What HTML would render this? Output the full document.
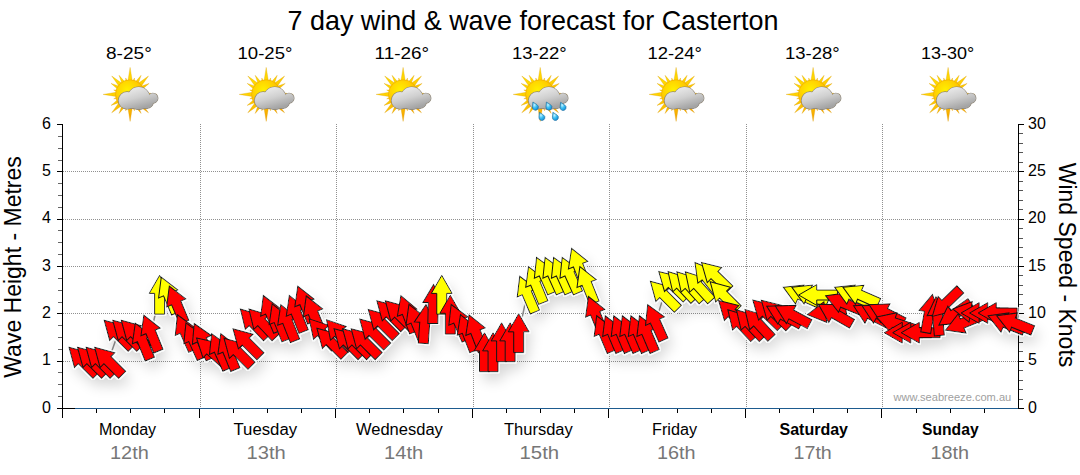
<!DOCTYPE html>
<html><head><meta charset="utf-8"><style>
html,body{margin:0;padding:0;background:#fff;width:1080px;height:475px;overflow:hidden}
svg{display:block}
text{font-family:"Liberation Sans",Arial,sans-serif}
.tl{font-size:16px;fill:#000}
.tt{font-size:17px;fill:#000}
.dl{font-size:16px;fill:#000}
.dt{font-size:18.5px;fill:#777}
</style></head><body>
<svg width="1080" height="475" viewBox="0 0 1080 475">
<defs>
<filter id="sh" x="-10%" y="-30%" width="120%" height="180%">
<feGaussianBlur in="SourceAlpha" stdDeviation="7" result="blur"/>
<feOffset in="blur" dx="4" dy="8" result="off"/>
<feComponentTransfer in="off" result="shadow"><feFuncA type="linear" slope="0.17"/></feComponentTransfer>
<feMorphology in="SourceAlpha" operator="dilate" radius="0.5" result="dil"/>
<feFlood flood-color="#fbfdfd" flood-opacity="0.9" result="white"/>
<feComposite in="white" in2="dil" operator="in" result="halo"/>
<feMerge><feMergeNode in="shadow"/><feMergeNode in="halo"/><feMergeNode in="SourceGraphic"/></feMerge>
</filter>
<radialGradient id="sun" cx="0.4" cy="0.35" r="0.75"><stop offset="0" stop-color="#fff000"/><stop offset="0.55" stop-color="#ffcc00"/><stop offset="1" stop-color="#f39a00"/></radialGradient>
<linearGradient id="ray" x1="0" y1="0" x2="0.6" y2="1"><stop offset="0" stop-color="#ffe600"/><stop offset="0.5" stop-color="#ffd000"/><stop offset="1" stop-color="#f5a000"/></linearGradient>
<linearGradient id="cl" gradientUnits="userSpaceOnUse" x1="0" y1="-7" x2="6" y2="15"><stop offset="0" stop-color="#ececec"/><stop offset="0.5" stop-color="#d0d0d0"/><stop offset="1" stop-color="#a4a4a4"/></linearGradient>
<radialGradient id="rd" cx="0.35" cy="0.35" r="0.7"><stop offset="0" stop-color="#c8f4ff"/><stop offset="0.5" stop-color="#3cc0f4"/><stop offset="1" stop-color="#1490d8"/></radialGradient>
</defs>
<text x="287.5" y="30" font-size="27.5" fill="#000" textLength="490.91" lengthAdjust="spacingAndGlyphs">7 day wind &amp; wave forecast for Casterton</text>
<text x="106.0" y="59" font-size="17" fill="#000" textLength="45.75" lengthAdjust="spacingAndGlyphs">8-25°</text>
<g transform="translate(130.1,94.4)">
<path d="M0.00,-27.00L2.60,-11.00L-2.60,-11.00ZM4.40,-16.42L4.39,-10.21L1.30,-11.04ZM11.00,-19.05L7.32,-8.48L3.68,-10.58ZM18.38,-18.38L9.55,-6.01L6.01,-9.55ZM19.05,-11.00L10.58,-3.68L8.48,-7.32ZM16.42,-4.40L11.04,-1.30L10.21,-4.39ZM27.00,-0.00L11.00,2.60L11.00,-2.60ZM16.42,4.40L10.21,4.39L11.04,1.30ZM19.05,11.00L8.48,7.32L10.58,3.68ZM18.38,18.38L6.01,9.55L9.55,6.01ZM11.00,19.05L3.68,10.58L7.32,8.48ZM4.40,16.42L1.30,11.04L4.39,10.21ZM0.00,27.00L-2.60,11.00L2.60,11.00ZM-4.40,16.42L-4.39,10.21L-1.30,11.04ZM-11.00,19.05L-7.32,8.48L-3.68,10.58ZM-18.38,18.38L-9.55,6.01L-6.01,9.55ZM-19.05,11.00L-10.58,3.68L-8.48,7.32ZM-16.42,4.40L-11.04,1.30L-10.21,4.39ZM-27.00,0.00L-11.00,-2.60L-11.00,2.60ZM-16.42,-4.40L-10.21,-4.39L-11.04,-1.30ZM-19.05,-11.00L-8.48,-7.32L-10.58,-3.68ZM-18.38,-18.38L-6.01,-9.55L-9.55,-6.01ZM-11.00,-19.05L-3.68,-10.58L-7.32,-8.48ZM-4.40,-16.42L-1.30,-11.04L-4.39,-10.21Z" fill="url(#ray)" stroke="#d99a00" stroke-width="0.5" stroke-opacity="0.6"/>
<circle r="14.6" fill="url(#sun)" stroke="#e8a000" stroke-width="0.5"/>
<g fill="#8a8070" stroke="#8a8070" stroke-width="1.2"><circle cx="-3" cy="6" r="8.5"/><circle cx="8.6" cy="3.8" r="11.1"/><circle cx="22.8" cy="3.8" r="4.9"/><circle cx="17" cy="7.8" r="6"/><rect x="-3" y="4" width="20" height="9.8"/></g>
<g fill="url(#cl)"><circle cx="-3" cy="6" r="8.5"/><circle cx="8.6" cy="3.8" r="11.1"/><circle cx="22.8" cy="3.8" r="4.9"/><circle cx="17" cy="7.8" r="6"/><rect x="-3" y="4" width="20" height="9.8"/></g>
</g>
<text x="99.0" y="435" font-size="16" fill="#000" textLength="57.13" lengthAdjust="spacingAndGlyphs">Monday</text>
<text x="110.0" y="458.7" font-size="18.5" fill="#777" textLength="38.77" lengthAdjust="spacingAndGlyphs">12th</text>
<text x="237.5" y="59" font-size="17" fill="#000" textLength="54.9" lengthAdjust="spacingAndGlyphs">10-25°</text>
<g transform="translate(266.2,94.4)">
<path d="M0.00,-27.00L2.60,-11.00L-2.60,-11.00ZM4.40,-16.42L4.39,-10.21L1.30,-11.04ZM11.00,-19.05L7.32,-8.48L3.68,-10.58ZM18.38,-18.38L9.55,-6.01L6.01,-9.55ZM19.05,-11.00L10.58,-3.68L8.48,-7.32ZM16.42,-4.40L11.04,-1.30L10.21,-4.39ZM27.00,-0.00L11.00,2.60L11.00,-2.60ZM16.42,4.40L10.21,4.39L11.04,1.30ZM19.05,11.00L8.48,7.32L10.58,3.68ZM18.38,18.38L6.01,9.55L9.55,6.01ZM11.00,19.05L3.68,10.58L7.32,8.48ZM4.40,16.42L1.30,11.04L4.39,10.21ZM0.00,27.00L-2.60,11.00L2.60,11.00ZM-4.40,16.42L-4.39,10.21L-1.30,11.04ZM-11.00,19.05L-7.32,8.48L-3.68,10.58ZM-18.38,18.38L-9.55,6.01L-6.01,9.55ZM-19.05,11.00L-10.58,3.68L-8.48,7.32ZM-16.42,4.40L-11.04,1.30L-10.21,4.39ZM-27.00,0.00L-11.00,-2.60L-11.00,2.60ZM-16.42,-4.40L-10.21,-4.39L-11.04,-1.30ZM-19.05,-11.00L-8.48,-7.32L-10.58,-3.68ZM-18.38,-18.38L-6.01,-9.55L-9.55,-6.01ZM-11.00,-19.05L-3.68,-10.58L-7.32,-8.48ZM-4.40,-16.42L-1.30,-11.04L-4.39,-10.21Z" fill="url(#ray)" stroke="#d99a00" stroke-width="0.5" stroke-opacity="0.6"/>
<circle r="14.6" fill="url(#sun)" stroke="#e8a000" stroke-width="0.5"/>
<g fill="#8a8070" stroke="#8a8070" stroke-width="1.2"><circle cx="-3" cy="6" r="8.5"/><circle cx="8.6" cy="3.8" r="11.1"/><circle cx="22.8" cy="3.8" r="4.9"/><circle cx="17" cy="7.8" r="6"/><rect x="-3" y="4" width="20" height="9.8"/></g>
<g fill="url(#cl)"><circle cx="-3" cy="6" r="8.5"/><circle cx="8.6" cy="3.8" r="11.1"/><circle cx="22.8" cy="3.8" r="4.9"/><circle cx="17" cy="7.8" r="6"/><rect x="-3" y="4" width="20" height="9.8"/></g>
</g>
<text x="233.5" y="435" font-size="16" fill="#000" textLength="63.58" lengthAdjust="spacingAndGlyphs">Tuesday</text>
<text x="246.5" y="458.7" font-size="18.5" fill="#777" textLength="39.21" lengthAdjust="spacingAndGlyphs">13th</text>
<text x="374.5" y="59" font-size="17" fill="#000" textLength="54.67" lengthAdjust="spacingAndGlyphs">11-26°</text>
<g transform="translate(403.1,94.4)">
<path d="M0.00,-27.00L2.60,-11.00L-2.60,-11.00ZM4.40,-16.42L4.39,-10.21L1.30,-11.04ZM11.00,-19.05L7.32,-8.48L3.68,-10.58ZM18.38,-18.38L9.55,-6.01L6.01,-9.55ZM19.05,-11.00L10.58,-3.68L8.48,-7.32ZM16.42,-4.40L11.04,-1.30L10.21,-4.39ZM27.00,-0.00L11.00,2.60L11.00,-2.60ZM16.42,4.40L10.21,4.39L11.04,1.30ZM19.05,11.00L8.48,7.32L10.58,3.68ZM18.38,18.38L6.01,9.55L9.55,6.01ZM11.00,19.05L3.68,10.58L7.32,8.48ZM4.40,16.42L1.30,11.04L4.39,10.21ZM0.00,27.00L-2.60,11.00L2.60,11.00ZM-4.40,16.42L-4.39,10.21L-1.30,11.04ZM-11.00,19.05L-7.32,8.48L-3.68,10.58ZM-18.38,18.38L-9.55,6.01L-6.01,9.55ZM-19.05,11.00L-10.58,3.68L-8.48,7.32ZM-16.42,4.40L-11.04,1.30L-10.21,4.39ZM-27.00,0.00L-11.00,-2.60L-11.00,2.60ZM-16.42,-4.40L-10.21,-4.39L-11.04,-1.30ZM-19.05,-11.00L-8.48,-7.32L-10.58,-3.68ZM-18.38,-18.38L-6.01,-9.55L-9.55,-6.01ZM-11.00,-19.05L-3.68,-10.58L-7.32,-8.48ZM-4.40,-16.42L-1.30,-11.04L-4.39,-10.21Z" fill="url(#ray)" stroke="#d99a00" stroke-width="0.5" stroke-opacity="0.6"/>
<circle r="14.6" fill="url(#sun)" stroke="#e8a000" stroke-width="0.5"/>
<g fill="#8a8070" stroke="#8a8070" stroke-width="1.2"><circle cx="-3" cy="6" r="8.5"/><circle cx="8.6" cy="3.8" r="11.1"/><circle cx="22.8" cy="3.8" r="4.9"/><circle cx="17" cy="7.8" r="6"/><rect x="-3" y="4" width="20" height="9.8"/></g>
<g fill="url(#cl)"><circle cx="-3" cy="6" r="8.5"/><circle cx="8.6" cy="3.8" r="11.1"/><circle cx="22.8" cy="3.8" r="4.9"/><circle cx="17" cy="7.8" r="6"/><rect x="-3" y="4" width="20" height="9.8"/></g>
</g>
<text x="356.0" y="435" font-size="16" fill="#000" textLength="86.81" lengthAdjust="spacingAndGlyphs">Wednesday</text>
<text x="384.0" y="458.7" font-size="18.5" fill="#777" textLength="39.19" lengthAdjust="spacingAndGlyphs">14th</text>
<text x="512.0" y="59" font-size="17" fill="#000" textLength="54.69" lengthAdjust="spacingAndGlyphs">13-22°</text>
<g transform="translate(540.2,94.4)">
<path d="M0.00,-27.00L2.60,-11.00L-2.60,-11.00ZM4.40,-16.42L4.39,-10.21L1.30,-11.04ZM11.00,-19.05L7.32,-8.48L3.68,-10.58ZM18.38,-18.38L9.55,-6.01L6.01,-9.55ZM19.05,-11.00L10.58,-3.68L8.48,-7.32ZM16.42,-4.40L11.04,-1.30L10.21,-4.39ZM27.00,-0.00L11.00,2.60L11.00,-2.60ZM16.42,4.40L10.21,4.39L11.04,1.30ZM19.05,11.00L8.48,7.32L10.58,3.68ZM18.38,18.38L6.01,9.55L9.55,6.01ZM11.00,19.05L3.68,10.58L7.32,8.48ZM4.40,16.42L1.30,11.04L4.39,10.21ZM0.00,27.00L-2.60,11.00L2.60,11.00ZM-4.40,16.42L-4.39,10.21L-1.30,11.04ZM-11.00,19.05L-7.32,8.48L-3.68,10.58ZM-18.38,18.38L-9.55,6.01L-6.01,9.55ZM-19.05,11.00L-10.58,3.68L-8.48,7.32ZM-16.42,4.40L-11.04,1.30L-10.21,4.39ZM-27.00,0.00L-11.00,-2.60L-11.00,2.60ZM-16.42,-4.40L-10.21,-4.39L-11.04,-1.30ZM-19.05,-11.00L-8.48,-7.32L-10.58,-3.68ZM-18.38,-18.38L-6.01,-9.55L-9.55,-6.01ZM-11.00,-19.05L-3.68,-10.58L-7.32,-8.48ZM-4.40,-16.42L-1.30,-11.04L-4.39,-10.21Z" fill="url(#ray)" stroke="#d99a00" stroke-width="0.5" stroke-opacity="0.6"/>
<circle r="14.6" fill="url(#sun)" stroke="#e8a000" stroke-width="0.5"/>
<g fill="#8a8070" stroke="#8a8070" stroke-width="1.2"><circle cx="-3" cy="6" r="8.5"/><circle cx="8.6" cy="3.8" r="11.1"/><circle cx="22.8" cy="3.8" r="4.9"/><circle cx="17" cy="7.8" r="6"/><rect x="-3" y="4" width="20" height="9.8"/></g>
<g fill="url(#cl)"><circle cx="-3" cy="6" r="8.5"/><circle cx="8.6" cy="3.8" r="11.1"/><circle cx="22.8" cy="3.8" r="4.9"/><circle cx="17" cy="7.8" r="6"/><rect x="-3" y="4" width="20" height="9.8"/></g>
<path d="M-7.30,7.60L-3.17,10.28A3,3 0 1 1 -7.79,12.50Z" fill="url(#rd)" stroke="#1c6a9a" stroke-width="0.6"/>
<path d="M6.20,7.60L10.33,10.28A3,3 0 1 1 5.71,12.50Z" fill="url(#rd)" stroke="#1c6a9a" stroke-width="0.6"/>
<path d="M20.40,7.90L24.53,10.58A3,3 0 1 1 19.91,12.80Z" fill="url(#rd)" stroke="#1c6a9a" stroke-width="0.6"/>
<path d="M-0.80,17.90L3.33,20.58A3,3 0 1 1 -1.29,22.80Z" fill="url(#rd)" stroke="#1c6a9a" stroke-width="0.6"/>
<path d="M12.70,17.90L16.83,20.58A3,3 0 1 1 12.21,22.80Z" fill="url(#rd)" stroke="#1c6a9a" stroke-width="0.6"/>
</g>
<text x="504.0" y="435" font-size="16" fill="#000" textLength="68.71" lengthAdjust="spacingAndGlyphs">Thursday</text>
<text x="519.5" y="458.7" font-size="18.5" fill="#777" textLength="39.62" lengthAdjust="spacingAndGlyphs">15th</text>
<text x="647.5" y="59" font-size="17" fill="#000" textLength="54.48" lengthAdjust="spacingAndGlyphs">12-24°</text>
<g transform="translate(676.1,94.4)">
<path d="M0.00,-27.00L2.60,-11.00L-2.60,-11.00ZM4.40,-16.42L4.39,-10.21L1.30,-11.04ZM11.00,-19.05L7.32,-8.48L3.68,-10.58ZM18.38,-18.38L9.55,-6.01L6.01,-9.55ZM19.05,-11.00L10.58,-3.68L8.48,-7.32ZM16.42,-4.40L11.04,-1.30L10.21,-4.39ZM27.00,-0.00L11.00,2.60L11.00,-2.60ZM16.42,4.40L10.21,4.39L11.04,1.30ZM19.05,11.00L8.48,7.32L10.58,3.68ZM18.38,18.38L6.01,9.55L9.55,6.01ZM11.00,19.05L3.68,10.58L7.32,8.48ZM4.40,16.42L1.30,11.04L4.39,10.21ZM0.00,27.00L-2.60,11.00L2.60,11.00ZM-4.40,16.42L-4.39,10.21L-1.30,11.04ZM-11.00,19.05L-7.32,8.48L-3.68,10.58ZM-18.38,18.38L-9.55,6.01L-6.01,9.55ZM-19.05,11.00L-10.58,3.68L-8.48,7.32ZM-16.42,4.40L-11.04,1.30L-10.21,4.39ZM-27.00,0.00L-11.00,-2.60L-11.00,2.60ZM-16.42,-4.40L-10.21,-4.39L-11.04,-1.30ZM-19.05,-11.00L-8.48,-7.32L-10.58,-3.68ZM-18.38,-18.38L-6.01,-9.55L-9.55,-6.01ZM-11.00,-19.05L-3.68,-10.58L-7.32,-8.48ZM-4.40,-16.42L-1.30,-11.04L-4.39,-10.21Z" fill="url(#ray)" stroke="#d99a00" stroke-width="0.5" stroke-opacity="0.6"/>
<circle r="14.6" fill="url(#sun)" stroke="#e8a000" stroke-width="0.5"/>
<g fill="#8a8070" stroke="#8a8070" stroke-width="1.2"><circle cx="-3" cy="6" r="8.5"/><circle cx="8.6" cy="3.8" r="11.1"/><circle cx="22.8" cy="3.8" r="4.9"/><circle cx="17" cy="7.8" r="6"/><rect x="-3" y="4" width="20" height="9.8"/></g>
<g fill="url(#cl)"><circle cx="-3" cy="6" r="8.5"/><circle cx="8.6" cy="3.8" r="11.1"/><circle cx="22.8" cy="3.8" r="4.9"/><circle cx="17" cy="7.8" r="6"/><rect x="-3" y="4" width="20" height="9.8"/></g>
</g>
<text x="652.0" y="435" font-size="16" fill="#000" textLength="45.08" lengthAdjust="spacingAndGlyphs">Friday</text>
<text x="657.0" y="458.7" font-size="18.5" fill="#777" textLength="38.58" lengthAdjust="spacingAndGlyphs">16th</text>
<text x="785.0" y="59" font-size="17" fill="#000" textLength="54.69" lengthAdjust="spacingAndGlyphs">13-28°</text>
<g transform="translate(813.1,94.4)">
<path d="M0.00,-27.00L2.60,-11.00L-2.60,-11.00ZM4.40,-16.42L4.39,-10.21L1.30,-11.04ZM11.00,-19.05L7.32,-8.48L3.68,-10.58ZM18.38,-18.38L9.55,-6.01L6.01,-9.55ZM19.05,-11.00L10.58,-3.68L8.48,-7.32ZM16.42,-4.40L11.04,-1.30L10.21,-4.39ZM27.00,-0.00L11.00,2.60L11.00,-2.60ZM16.42,4.40L10.21,4.39L11.04,1.30ZM19.05,11.00L8.48,7.32L10.58,3.68ZM18.38,18.38L6.01,9.55L9.55,6.01ZM11.00,19.05L3.68,10.58L7.32,8.48ZM4.40,16.42L1.30,11.04L4.39,10.21ZM0.00,27.00L-2.60,11.00L2.60,11.00ZM-4.40,16.42L-4.39,10.21L-1.30,11.04ZM-11.00,19.05L-7.32,8.48L-3.68,10.58ZM-18.38,18.38L-9.55,6.01L-6.01,9.55ZM-19.05,11.00L-10.58,3.68L-8.48,7.32ZM-16.42,4.40L-11.04,1.30L-10.21,4.39ZM-27.00,0.00L-11.00,-2.60L-11.00,2.60ZM-16.42,-4.40L-10.21,-4.39L-11.04,-1.30ZM-19.05,-11.00L-8.48,-7.32L-10.58,-3.68ZM-18.38,-18.38L-6.01,-9.55L-9.55,-6.01ZM-11.00,-19.05L-3.68,-10.58L-7.32,-8.48ZM-4.40,-16.42L-1.30,-11.04L-4.39,-10.21Z" fill="url(#ray)" stroke="#d99a00" stroke-width="0.5" stroke-opacity="0.6"/>
<circle r="14.6" fill="url(#sun)" stroke="#e8a000" stroke-width="0.5"/>
<g fill="#8a8070" stroke="#8a8070" stroke-width="1.2"><circle cx="-3" cy="6" r="8.5"/><circle cx="8.6" cy="3.8" r="11.1"/><circle cx="22.8" cy="3.8" r="4.9"/><circle cx="17" cy="7.8" r="6"/><rect x="-3" y="4" width="20" height="9.8"/></g>
<g fill="url(#cl)"><circle cx="-3" cy="6" r="8.5"/><circle cx="8.6" cy="3.8" r="11.1"/><circle cx="22.8" cy="3.8" r="4.9"/><circle cx="17" cy="7.8" r="6"/><rect x="-3" y="4" width="20" height="9.8"/></g>
</g>
<text x="779.5" y="435" font-size="16" font-weight="bold" fill="#000" textLength="68.48" lengthAdjust="spacingAndGlyphs">Saturday</text>
<text x="793.5" y="458.7" font-size="18.5" fill="#777" textLength="38.29" lengthAdjust="spacingAndGlyphs">17th</text>
<text x="921.0" y="59" font-size="17" fill="#000" textLength="53.25" lengthAdjust="spacingAndGlyphs">13-30°</text>
<g transform="translate(948.1,94.4)">
<path d="M0.00,-27.00L2.60,-11.00L-2.60,-11.00ZM4.40,-16.42L4.39,-10.21L1.30,-11.04ZM11.00,-19.05L7.32,-8.48L3.68,-10.58ZM18.38,-18.38L9.55,-6.01L6.01,-9.55ZM19.05,-11.00L10.58,-3.68L8.48,-7.32ZM16.42,-4.40L11.04,-1.30L10.21,-4.39ZM27.00,-0.00L11.00,2.60L11.00,-2.60ZM16.42,4.40L10.21,4.39L11.04,1.30ZM19.05,11.00L8.48,7.32L10.58,3.68ZM18.38,18.38L6.01,9.55L9.55,6.01ZM11.00,19.05L3.68,10.58L7.32,8.48ZM4.40,16.42L1.30,11.04L4.39,10.21ZM0.00,27.00L-2.60,11.00L2.60,11.00ZM-4.40,16.42L-4.39,10.21L-1.30,11.04ZM-11.00,19.05L-7.32,8.48L-3.68,10.58ZM-18.38,18.38L-9.55,6.01L-6.01,9.55ZM-19.05,11.00L-10.58,3.68L-8.48,7.32ZM-16.42,4.40L-11.04,1.30L-10.21,4.39ZM-27.00,0.00L-11.00,-2.60L-11.00,2.60ZM-16.42,-4.40L-10.21,-4.39L-11.04,-1.30ZM-19.05,-11.00L-8.48,-7.32L-10.58,-3.68ZM-18.38,-18.38L-6.01,-9.55L-9.55,-6.01ZM-11.00,-19.05L-3.68,-10.58L-7.32,-8.48ZM-4.40,-16.42L-1.30,-11.04L-4.39,-10.21Z" fill="url(#ray)" stroke="#d99a00" stroke-width="0.5" stroke-opacity="0.6"/>
<circle r="14.6" fill="url(#sun)" stroke="#e8a000" stroke-width="0.5"/>
<g fill="#8a8070" stroke="#8a8070" stroke-width="1.2"><circle cx="-3" cy="6" r="8.5"/><circle cx="8.6" cy="3.8" r="11.1"/><circle cx="22.8" cy="3.8" r="4.9"/><circle cx="17" cy="7.8" r="6"/><rect x="-3" y="4" width="20" height="9.8"/></g>
<g fill="url(#cl)"><circle cx="-3" cy="6" r="8.5"/><circle cx="8.6" cy="3.8" r="11.1"/><circle cx="22.8" cy="3.8" r="4.9"/><circle cx="17" cy="7.8" r="6"/><rect x="-3" y="4" width="20" height="9.8"/></g>
</g>
<text x="922.0" y="435" font-size="16" font-weight="bold" fill="#000" textLength="56.61" lengthAdjust="spacingAndGlyphs">Sunday</text>
<text x="930.5" y="458.7" font-size="18.5" fill="#777" textLength="38.54" lengthAdjust="spacingAndGlyphs">18th</text>
<line x1="63" y1="361.5" x2="1018" y2="361.5" stroke="#909090" stroke-width="1" stroke-dasharray="1,1"/>
<line x1="63" y1="313.5" x2="1018" y2="313.5" stroke="#909090" stroke-width="1" stroke-dasharray="1,1"/>
<line x1="63" y1="266.5" x2="1018" y2="266.5" stroke="#909090" stroke-width="1" stroke-dasharray="1,1"/>
<line x1="63" y1="219.5" x2="1018" y2="219.5" stroke="#909090" stroke-width="1" stroke-dasharray="1,1"/>
<line x1="63" y1="171.5" x2="1018" y2="171.5" stroke="#909090" stroke-width="1" stroke-dasharray="1,1"/>
<line x1="200.5" y1="124" x2="200.5" y2="408" stroke="#909090" stroke-width="1" stroke-dasharray="1,1"/>
<line x1="336.5" y1="124" x2="336.5" y2="408" stroke="#909090" stroke-width="1" stroke-dasharray="1,1"/>
<line x1="473.5" y1="124" x2="473.5" y2="408" stroke="#909090" stroke-width="1" stroke-dasharray="1,1"/>
<line x1="609.5" y1="124" x2="609.5" y2="408" stroke="#909090" stroke-width="1" stroke-dasharray="1,1"/>
<line x1="746.5" y1="124" x2="746.5" y2="408" stroke="#909090" stroke-width="1" stroke-dasharray="1,1"/>
<line x1="882.5" y1="124" x2="882.5" y2="408" stroke="#909090" stroke-width="1" stroke-dasharray="1,1"/>
<text x="893.5" y="401" font-size="11" fill="#a0a0a0" textLength="117.78" lengthAdjust="spacingAndGlyphs">www.seabreeze.com.au</text>
<line x1="62.5" y1="124" x2="62.5" y2="418" stroke="#000" stroke-width="1"/>
<line x1="57" y1="408.5" x2="62" y2="408.5" stroke="#000" stroke-width="1"/>
<line x1="57" y1="361.5" x2="62" y2="361.5" stroke="#000" stroke-width="1"/>
<line x1="57" y1="313.5" x2="62" y2="313.5" stroke="#000" stroke-width="1"/>
<line x1="57" y1="266.5" x2="62" y2="266.5" stroke="#000" stroke-width="1"/>
<line x1="57" y1="219.5" x2="62" y2="219.5" stroke="#000" stroke-width="1"/>
<line x1="57" y1="171.5" x2="62" y2="171.5" stroke="#000" stroke-width="1"/>
<line x1="57" y1="124.5" x2="62" y2="124.5" stroke="#000" stroke-width="1"/>
<line x1="58" y1="396.5" x2="62" y2="396.5" stroke="#666" stroke-width="1"/>
<line x1="58" y1="384.5" x2="62" y2="384.5" stroke="#666" stroke-width="1"/>
<line x1="58" y1="372.5" x2="62" y2="372.5" stroke="#666" stroke-width="1"/>
<line x1="58" y1="349.5" x2="62" y2="349.5" stroke="#666" stroke-width="1"/>
<line x1="58" y1="337.5" x2="62" y2="337.5" stroke="#666" stroke-width="1"/>
<line x1="58" y1="325.5" x2="62" y2="325.5" stroke="#666" stroke-width="1"/>
<line x1="58" y1="302.5" x2="62" y2="302.5" stroke="#666" stroke-width="1"/>
<line x1="58" y1="290.5" x2="62" y2="290.5" stroke="#666" stroke-width="1"/>
<line x1="58" y1="278.5" x2="62" y2="278.5" stroke="#666" stroke-width="1"/>
<line x1="58" y1="254.5" x2="62" y2="254.5" stroke="#666" stroke-width="1"/>
<line x1="58" y1="242.5" x2="62" y2="242.5" stroke="#666" stroke-width="1"/>
<line x1="58" y1="230.5" x2="62" y2="230.5" stroke="#666" stroke-width="1"/>
<line x1="58" y1="207.5" x2="62" y2="207.5" stroke="#666" stroke-width="1"/>
<line x1="58" y1="195.5" x2="62" y2="195.5" stroke="#666" stroke-width="1"/>
<line x1="58" y1="183.5" x2="62" y2="183.5" stroke="#666" stroke-width="1"/>
<line x1="58" y1="160.5" x2="62" y2="160.5" stroke="#666" stroke-width="1"/>
<line x1="58" y1="148.5" x2="62" y2="148.5" stroke="#666" stroke-width="1"/>
<line x1="58" y1="136.5" x2="62" y2="136.5" stroke="#666" stroke-width="1"/>
<line x1="1018.5" y1="124" x2="1018.5" y2="409" stroke="#000" stroke-width="1"/>
<line x1="1019" y1="408.5" x2="1024" y2="408.5" stroke="#000" stroke-width="1"/>
<line x1="1019" y1="399.5" x2="1023" y2="399.5" stroke="#555" stroke-width="1"/>
<line x1="1019" y1="389.5" x2="1023" y2="389.5" stroke="#555" stroke-width="1"/>
<line x1="1019" y1="380.5" x2="1023" y2="380.5" stroke="#555" stroke-width="1"/>
<line x1="1019" y1="370.5" x2="1023" y2="370.5" stroke="#555" stroke-width="1"/>
<line x1="1019" y1="361.5" x2="1024" y2="361.5" stroke="#000" stroke-width="1"/>
<line x1="1019" y1="351.5" x2="1023" y2="351.5" stroke="#555" stroke-width="1"/>
<line x1="1019" y1="342.5" x2="1023" y2="342.5" stroke="#555" stroke-width="1"/>
<line x1="1019" y1="332.5" x2="1023" y2="332.5" stroke="#555" stroke-width="1"/>
<line x1="1019" y1="323.5" x2="1023" y2="323.5" stroke="#555" stroke-width="1"/>
<line x1="1019" y1="313.5" x2="1024" y2="313.5" stroke="#000" stroke-width="1"/>
<line x1="1019" y1="304.5" x2="1023" y2="304.5" stroke="#555" stroke-width="1"/>
<line x1="1019" y1="294.5" x2="1023" y2="294.5" stroke="#555" stroke-width="1"/>
<line x1="1019" y1="285.5" x2="1023" y2="285.5" stroke="#555" stroke-width="1"/>
<line x1="1019" y1="275.5" x2="1023" y2="275.5" stroke="#555" stroke-width="1"/>
<line x1="1019" y1="266.5" x2="1024" y2="266.5" stroke="#000" stroke-width="1"/>
<line x1="1019" y1="257.5" x2="1023" y2="257.5" stroke="#555" stroke-width="1"/>
<line x1="1019" y1="247.5" x2="1023" y2="247.5" stroke="#555" stroke-width="1"/>
<line x1="1019" y1="238.5" x2="1023" y2="238.5" stroke="#555" stroke-width="1"/>
<line x1="1019" y1="228.5" x2="1023" y2="228.5" stroke="#555" stroke-width="1"/>
<line x1="1019" y1="219.5" x2="1024" y2="219.5" stroke="#000" stroke-width="1"/>
<line x1="1019" y1="209.5" x2="1023" y2="209.5" stroke="#555" stroke-width="1"/>
<line x1="1019" y1="200.5" x2="1023" y2="200.5" stroke="#555" stroke-width="1"/>
<line x1="1019" y1="190.5" x2="1023" y2="190.5" stroke="#555" stroke-width="1"/>
<line x1="1019" y1="181.5" x2="1023" y2="181.5" stroke="#555" stroke-width="1"/>
<line x1="1019" y1="171.5" x2="1024" y2="171.5" stroke="#000" stroke-width="1"/>
<line x1="1019" y1="162.5" x2="1023" y2="162.5" stroke="#555" stroke-width="1"/>
<line x1="1019" y1="152.5" x2="1023" y2="152.5" stroke="#555" stroke-width="1"/>
<line x1="1019" y1="143.5" x2="1023" y2="143.5" stroke="#555" stroke-width="1"/>
<line x1="1019" y1="133.5" x2="1023" y2="133.5" stroke="#555" stroke-width="1"/>
<line x1="1019" y1="124.5" x2="1024" y2="124.5" stroke="#000" stroke-width="1"/>
<line x1="57" y1="408.5" x2="75" y2="408.5" stroke="#000" stroke-width="1"/>
<line x1="75" y1="408.5" x2="1018" y2="408.5" stroke="#1d5b8f" stroke-width="1"/>
<line x1="96.5" y1="409" x2="96.5" y2="413" stroke="#000" stroke-width="1"/>
<line x1="130.5" y1="409" x2="130.5" y2="413" stroke="#000" stroke-width="1"/>
<line x1="164.5" y1="409" x2="164.5" y2="413" stroke="#000" stroke-width="1"/>
<line x1="199.5" y1="409" x2="199.5" y2="418" stroke="#000" stroke-width="1"/>
<line x1="233.5" y1="409" x2="233.5" y2="413" stroke="#000" stroke-width="1"/>
<line x1="267.5" y1="409" x2="267.5" y2="413" stroke="#000" stroke-width="1"/>
<line x1="301.5" y1="409" x2="301.5" y2="413" stroke="#000" stroke-width="1"/>
<line x1="335.5" y1="409" x2="335.5" y2="418" stroke="#000" stroke-width="1"/>
<line x1="369.5" y1="409" x2="369.5" y2="413" stroke="#000" stroke-width="1"/>
<line x1="403.5" y1="409" x2="403.5" y2="413" stroke="#000" stroke-width="1"/>
<line x1="438.5" y1="409" x2="438.5" y2="413" stroke="#000" stroke-width="1"/>
<line x1="472.5" y1="409" x2="472.5" y2="418" stroke="#000" stroke-width="1"/>
<line x1="506.5" y1="409" x2="506.5" y2="413" stroke="#000" stroke-width="1"/>
<line x1="540.5" y1="409" x2="540.5" y2="413" stroke="#000" stroke-width="1"/>
<line x1="574.5" y1="409" x2="574.5" y2="413" stroke="#000" stroke-width="1"/>
<line x1="608.5" y1="409" x2="608.5" y2="418" stroke="#000" stroke-width="1"/>
<line x1="642.5" y1="409" x2="642.5" y2="413" stroke="#000" stroke-width="1"/>
<line x1="677.5" y1="409" x2="677.5" y2="413" stroke="#000" stroke-width="1"/>
<line x1="711.5" y1="409" x2="711.5" y2="413" stroke="#000" stroke-width="1"/>
<line x1="745.5" y1="409" x2="745.5" y2="418" stroke="#000" stroke-width="1"/>
<line x1="779.5" y1="409" x2="779.5" y2="413" stroke="#000" stroke-width="1"/>
<line x1="813.5" y1="409" x2="813.5" y2="413" stroke="#000" stroke-width="1"/>
<line x1="847.5" y1="409" x2="847.5" y2="413" stroke="#000" stroke-width="1"/>
<line x1="881.5" y1="409" x2="881.5" y2="418" stroke="#000" stroke-width="1"/>
<line x1="916.5" y1="409" x2="916.5" y2="413" stroke="#000" stroke-width="1"/>
<line x1="950.5" y1="409" x2="950.5" y2="413" stroke="#000" stroke-width="1"/>
<line x1="984.5" y1="409" x2="984.5" y2="413" stroke="#000" stroke-width="1"/>
<text x="51" y="412.6" text-anchor="end" class="tl">0</text>
<text x="51" y="365.3" text-anchor="end" class="tl">1</text>
<text x="51" y="317.9" text-anchor="end" class="tl">2</text>
<text x="51" y="270.6" text-anchor="end" class="tl">3</text>
<text x="51" y="223.3" text-anchor="end" class="tl">4</text>
<text x="51" y="175.9" text-anchor="end" class="tl">5</text>
<text x="51" y="128.6" text-anchor="end" class="tl">6</text>
<text x="1028" y="412.6" class="tl">0</text>
<text x="1028" y="365.3" class="tl">5</text>
<text x="1028" y="317.9" class="tl">10</text>
<text x="1028" y="270.6" class="tl">15</text>
<text x="1028" y="223.3" class="tl">20</text>
<text x="1028" y="175.9" class="tl">25</text>
<text x="1028" y="128.6" class="tl">30</text>
<path d="M82.65,361.00 L91.20,361.00 L99.75,361.00 L108.30,361.00 L117.85,334.00 L126.40,334.00 L134.95,334.00 L142.50,341.00 L151.05,333.00 L159.60,294.60 L168.65,295.00 L176.70,304.00 L185.25,332.40 L193.80,340.60 L202.35,341.00 L210.90,351.00 L219.45,351.30 L228.00,351.50 L237.65,351.90 L246.60,342.40 L253.65,323.10 L262.20,323.10 L270.75,313.30 L279.30,321.80 L287.85,322.60 L296.40,313.40 L304.95,304.00 L313.50,313.90 L322.05,333.20 L330.60,342.00 L339.15,334.20 L347.70,342.30 L356.25,342.30 L364.80,342.30 L373.35,332.70 L381.90,323.20 L390.45,314.30 L399.00,314.50 L407.55,313.80 L416.10,322.40 L424.65,323.80 L433.20,303.90 L441.75,294.60 L450.30,314.50 L458.85,322.20 L467.40,332.60 L475.95,332.80 L484.50,352.10 L493.05,352.10 L501.60,342.10 L510.15,342.10 L518.70,333.00 L527.25,294.00 L535.80,284.40 L544.35,275.00 L552.90,275.00 L561.45,275.00 L570.00,275.00 L578.55,266.30 L587.10,284.60 L595.65,314.40 L604.20,333.50 L612.75,333.50 L621.30,333.50 L629.85,333.50 L638.40,333.50 L646.95,333.50 L655.50,322.20 L664.05,295.00 L672.60,284.80 L681.15,285.70 L689.70,286.00 L698.25,286.00 L706.80,277.70 L715.35,275.90 L723.90,295.50 L732.45,313.90 L741.00,323.80 L749.55,323.80 L758.10,323.50 L766.65,313.40 L775.20,313.70 L783.75,315.30 L792.30,315.00 L800.85,295.00 L809.40,295.00 L817.95,295.00 L826.50,312.00 L835.05,314.00 L843.60,303.00 L852.15,295.00 L860.70,295.20 L870.75,314.50 L879.30,314.50 L886.35,313.50 L894.90,323.00 L903.45,332.70 L912.00,332.70 L920.55,332.70 L929.10,313.40 L937.65,316.00 L946.20,303.00 L954.75,314.00 L963.30,323.00 L971.85,312.00 L980.40,313.00 L988.95,313.00 L997.50,313.00 L1006.05,323.00 L1014.60,323.00" fill="none" stroke="#8c8c8c" stroke-width="1.5"/>
<g filter="url(#sh)">
<path d="M0,-19.3L10.4,-1.2L5,-1.2L5,19.6L-5,19.6L-5,-1.2L-10.4,-1.2Z" transform="translate(82.65,361.00) rotate(-45)" fill="#ff0000" stroke="#141414" stroke-width="1"/>
<path d="M0,-19.3L10.4,-1.2L5,-1.2L5,19.6L-5,19.6L-5,-1.2L-10.4,-1.2Z" transform="translate(91.20,361.00) rotate(-45)" fill="#ff0000" stroke="#141414" stroke-width="1"/>
<path d="M0,-19.3L10.4,-1.2L5,-1.2L5,19.6L-5,19.6L-5,-1.2L-10.4,-1.2Z" transform="translate(99.75,361.00) rotate(-45)" fill="#ff0000" stroke="#141414" stroke-width="1"/>
<path d="M0,-19.3L10.4,-1.2L5,-1.2L5,19.6L-5,19.6L-5,-1.2L-10.4,-1.2Z" transform="translate(108.30,361.00) rotate(-45)" fill="#ff0000" stroke="#141414" stroke-width="1"/>
<path d="M0,-19.3L10.4,-1.2L5,-1.2L5,19.6L-5,19.6L-5,-1.2L-10.4,-1.2Z" transform="translate(117.85,334.00) rotate(-45)" fill="#ff0000" stroke="#141414" stroke-width="1"/>
<path d="M0,-19.3L10.4,-1.2L5,-1.2L5,19.6L-5,19.6L-5,-1.2L-10.4,-1.2Z" transform="translate(126.40,334.00) rotate(-45)" fill="#ff0000" stroke="#141414" stroke-width="1"/>
<path d="M0,-19.3L10.4,-1.2L5,-1.2L5,19.6L-5,19.6L-5,-1.2L-10.4,-1.2Z" transform="translate(134.95,334.00) rotate(-45)" fill="#ff0000" stroke="#141414" stroke-width="1"/>
<path d="M0,-19.3L10.4,-1.2L5,-1.2L5,19.6L-5,19.6L-5,-1.2L-10.4,-1.2Z" transform="translate(142.50,341.00) rotate(-22)" fill="#ff0000" stroke="#141414" stroke-width="1"/>
<path d="M0,-19.3L10.4,-1.2L5,-1.2L5,19.6L-5,19.6L-5,-1.2L-10.4,-1.2Z" transform="translate(151.05,333.00) rotate(-22)" fill="#ff0000" stroke="#141414" stroke-width="1"/>
<path d="M0,-19.3L10.4,-1.2L5,-1.2L5,19.6L-5,19.6L-5,-1.2L-10.4,-1.2Z" transform="translate(159.60,294.60) rotate(0)" fill="#ffff00" stroke="#141414" stroke-width="1"/>
<path d="M0,-19.3L10.4,-1.2L5,-1.2L5,19.6L-5,19.6L-5,-1.2L-10.4,-1.2Z" transform="translate(168.65,295.00) rotate(-22.5)" fill="#ffff00" stroke="#141414" stroke-width="1"/>
<path d="M0,-19.3L10.4,-1.2L5,-1.2L5,19.6L-5,19.6L-5,-1.2L-10.4,-1.2Z" transform="translate(176.70,304.00) rotate(-22.5)" fill="#ff0000" stroke="#141414" stroke-width="1"/>
<path d="M0,-19.3L10.4,-1.2L5,-1.2L5,19.6L-5,19.6L-5,-1.2L-10.4,-1.2Z" transform="translate(185.25,332.40) rotate(-24)" fill="#ff0000" stroke="#141414" stroke-width="1"/>
<path d="M0,-19.3L10.4,-1.2L5,-1.2L5,19.6L-5,19.6L-5,-1.2L-10.4,-1.2Z" transform="translate(193.80,340.60) rotate(-24)" fill="#ff0000" stroke="#141414" stroke-width="1"/>
<path d="M0,-19.3L10.4,-1.2L5,-1.2L5,19.6L-5,19.6L-5,-1.2L-10.4,-1.2Z" transform="translate(202.35,341.00) rotate(-25)" fill="#ff0000" stroke="#141414" stroke-width="1"/>
<path d="M0,-19.3L10.4,-1.2L5,-1.2L5,19.6L-5,19.6L-5,-1.2L-10.4,-1.2Z" transform="translate(210.90,351.00) rotate(-48)" fill="#ff0000" stroke="#141414" stroke-width="1"/>
<path d="M0,-19.3L10.4,-1.2L5,-1.2L5,19.6L-5,19.6L-5,-1.2L-10.4,-1.2Z" transform="translate(219.45,351.30) rotate(-24)" fill="#ff0000" stroke="#141414" stroke-width="1"/>
<path d="M0,-19.3L10.4,-1.2L5,-1.2L5,19.6L-5,19.6L-5,-1.2L-10.4,-1.2Z" transform="translate(228.00,351.50) rotate(-22)" fill="#ff0000" stroke="#141414" stroke-width="1"/>
<path d="M0,-19.3L10.4,-1.2L5,-1.2L5,19.6L-5,19.6L-5,-1.2L-10.4,-1.2Z" transform="translate(237.65,351.90) rotate(-45)" fill="#ff0000" stroke="#141414" stroke-width="1"/>
<path d="M0,-19.3L10.4,-1.2L5,-1.2L5,19.6L-5,19.6L-5,-1.2L-10.4,-1.2Z" transform="translate(246.60,342.40) rotate(-45)" fill="#ff0000" stroke="#141414" stroke-width="1"/>
<path d="M0,-19.3L10.4,-1.2L5,-1.2L5,19.6L-5,19.6L-5,-1.2L-10.4,-1.2Z" transform="translate(253.65,323.10) rotate(-43.5)" fill="#ff0000" stroke="#141414" stroke-width="1"/>
<path d="M0,-19.3L10.4,-1.2L5,-1.2L5,19.6L-5,19.6L-5,-1.2L-10.4,-1.2Z" transform="translate(262.20,323.10) rotate(-43.5)" fill="#ff0000" stroke="#141414" stroke-width="1"/>
<path d="M0,-19.3L10.4,-1.2L5,-1.2L5,19.6L-5,19.6L-5,-1.2L-10.4,-1.2Z" transform="translate(270.75,313.30) rotate(-22.7)" fill="#ff0000" stroke="#141414" stroke-width="1"/>
<path d="M0,-19.3L10.4,-1.2L5,-1.2L5,19.6L-5,19.6L-5,-1.2L-10.4,-1.2Z" transform="translate(279.30,321.80) rotate(-21.7)" fill="#ff0000" stroke="#141414" stroke-width="1"/>
<path d="M0,-19.3L10.4,-1.2L5,-1.2L5,19.6L-5,19.6L-5,-1.2L-10.4,-1.2Z" transform="translate(287.85,322.60) rotate(-21.5)" fill="#ff0000" stroke="#141414" stroke-width="1"/>
<path d="M0,-19.3L10.4,-1.2L5,-1.2L5,19.6L-5,19.6L-5,-1.2L-10.4,-1.2Z" transform="translate(296.40,313.40) rotate(-21.7)" fill="#ff0000" stroke="#141414" stroke-width="1"/>
<path d="M0,-19.3L10.4,-1.2L5,-1.2L5,19.6L-5,19.6L-5,-1.2L-10.4,-1.2Z" transform="translate(304.95,304.00) rotate(-22)" fill="#ff0000" stroke="#141414" stroke-width="1"/>
<path d="M0,-19.3L10.4,-1.2L5,-1.2L5,19.6L-5,19.6L-5,-1.2L-10.4,-1.2Z" transform="translate(313.50,313.90) rotate(-22)" fill="#ff0000" stroke="#141414" stroke-width="1"/>
<path d="M0,-19.3L10.4,-1.2L5,-1.2L5,19.6L-5,19.6L-5,-1.2L-10.4,-1.2Z" transform="translate(322.05,333.20) rotate(-42)" fill="#ff0000" stroke="#141414" stroke-width="1"/>
<path d="M0,-19.3L10.4,-1.2L5,-1.2L5,19.6L-5,19.6L-5,-1.2L-10.4,-1.2Z" transform="translate(330.60,342.00) rotate(-45)" fill="#ff0000" stroke="#141414" stroke-width="1"/>
<path d="M0,-19.3L10.4,-1.2L5,-1.2L5,19.6L-5,19.6L-5,-1.2L-10.4,-1.2Z" transform="translate(339.15,334.20) rotate(-41)" fill="#ff0000" stroke="#141414" stroke-width="1"/>
<path d="M0,-19.3L10.4,-1.2L5,-1.2L5,19.6L-5,19.6L-5,-1.2L-10.4,-1.2Z" transform="translate(347.70,342.30) rotate(-45)" fill="#ff0000" stroke="#141414" stroke-width="1"/>
<path d="M0,-19.3L10.4,-1.2L5,-1.2L5,19.6L-5,19.6L-5,-1.2L-10.4,-1.2Z" transform="translate(356.25,342.30) rotate(-45)" fill="#ff0000" stroke="#141414" stroke-width="1"/>
<path d="M0,-19.3L10.4,-1.2L5,-1.2L5,19.6L-5,19.6L-5,-1.2L-10.4,-1.2Z" transform="translate(364.80,342.30) rotate(-45)" fill="#ff0000" stroke="#141414" stroke-width="1"/>
<path d="M0,-19.3L10.4,-1.2L5,-1.2L5,19.6L-5,19.6L-5,-1.2L-10.4,-1.2Z" transform="translate(373.35,332.70) rotate(-45)" fill="#ff0000" stroke="#141414" stroke-width="1"/>
<path d="M0,-19.3L10.4,-1.2L5,-1.2L5,19.6L-5,19.6L-5,-1.2L-10.4,-1.2Z" transform="translate(381.90,323.20) rotate(-45)" fill="#ff0000" stroke="#141414" stroke-width="1"/>
<path d="M0,-19.3L10.4,-1.2L5,-1.2L5,19.6L-5,19.6L-5,-1.2L-10.4,-1.2Z" transform="translate(390.45,314.30) rotate(-45)" fill="#ff0000" stroke="#141414" stroke-width="1"/>
<path d="M0,-19.3L10.4,-1.2L5,-1.2L5,19.6L-5,19.6L-5,-1.2L-10.4,-1.2Z" transform="translate(399.00,314.50) rotate(-45)" fill="#ff0000" stroke="#141414" stroke-width="1"/>
<path d="M0,-19.3L10.4,-1.2L5,-1.2L5,19.6L-5,19.6L-5,-1.2L-10.4,-1.2Z" transform="translate(407.55,313.80) rotate(-20.3)" fill="#ff0000" stroke="#141414" stroke-width="1"/>
<path d="M0,-19.3L10.4,-1.2L5,-1.2L5,19.6L-5,19.6L-5,-1.2L-10.4,-1.2Z" transform="translate(416.10,322.40) rotate(-21.8)" fill="#ff0000" stroke="#141414" stroke-width="1"/>
<path d="M0,-19.3L10.4,-1.2L5,-1.2L5,19.6L-5,19.6L-5,-1.2L-10.4,-1.2Z" transform="translate(424.65,323.80) rotate(4)" fill="#ff0000" stroke="#141414" stroke-width="1"/>
<path d="M0,-19.3L10.4,-1.2L5,-1.2L5,19.6L-5,19.6L-5,-1.2L-10.4,-1.2Z" transform="translate(433.20,303.90) rotate(1)" fill="#ff0000" stroke="#141414" stroke-width="1"/>
<path d="M0,-19.3L10.4,-1.2L5,-1.2L5,19.6L-5,19.6L-5,-1.2L-10.4,-1.2Z" transform="translate(441.75,294.60) rotate(0)" fill="#ffff00" stroke="#141414" stroke-width="1"/>
<path d="M0,-19.3L10.4,-1.2L5,-1.2L5,19.6L-5,19.6L-5,-1.2L-10.4,-1.2Z" transform="translate(450.30,314.50) rotate(0)" fill="#ff0000" stroke="#141414" stroke-width="1"/>
<path d="M0,-19.3L10.4,-1.2L5,-1.2L5,19.6L-5,19.6L-5,-1.2L-10.4,-1.2Z" transform="translate(458.85,322.20) rotate(-23.5)" fill="#ff0000" stroke="#141414" stroke-width="1"/>
<path d="M0,-19.3L10.4,-1.2L5,-1.2L5,19.6L-5,19.6L-5,-1.2L-10.4,-1.2Z" transform="translate(467.40,332.60) rotate(-21)" fill="#ff0000" stroke="#141414" stroke-width="1"/>
<path d="M0,-19.3L10.4,-1.2L5,-1.2L5,19.6L-5,19.6L-5,-1.2L-10.4,-1.2Z" transform="translate(475.95,332.80) rotate(-21)" fill="#ff0000" stroke="#141414" stroke-width="1"/>
<path d="M0,-19.3L10.4,-1.2L5,-1.2L5,19.6L-5,19.6L-5,-1.2L-10.4,-1.2Z" transform="translate(484.50,352.10) rotate(0)" fill="#ff0000" stroke="#141414" stroke-width="1"/>
<path d="M0,-19.3L10.4,-1.2L5,-1.2L5,19.6L-5,19.6L-5,-1.2L-10.4,-1.2Z" transform="translate(493.05,352.10) rotate(0)" fill="#ff0000" stroke="#141414" stroke-width="1"/>
<path d="M0,-19.3L10.4,-1.2L5,-1.2L5,19.6L-5,19.6L-5,-1.2L-10.4,-1.2Z" transform="translate(501.60,342.10) rotate(0)" fill="#ff0000" stroke="#141414" stroke-width="1"/>
<path d="M0,-19.3L10.4,-1.2L5,-1.2L5,19.6L-5,19.6L-5,-1.2L-10.4,-1.2Z" transform="translate(510.15,342.10) rotate(0)" fill="#ff0000" stroke="#141414" stroke-width="1"/>
<path d="M0,-19.3L10.4,-1.2L5,-1.2L5,19.6L-5,19.6L-5,-1.2L-10.4,-1.2Z" transform="translate(518.70,333.00) rotate(0)" fill="#ff0000" stroke="#141414" stroke-width="1"/>
<path d="M0,-19.3L10.4,-1.2L5,-1.2L5,19.6L-5,19.6L-5,-1.2L-10.4,-1.2Z" transform="translate(527.25,294.00) rotate(-23)" fill="#ffff00" stroke="#141414" stroke-width="1"/>
<path d="M0,-19.3L10.4,-1.2L5,-1.2L5,19.6L-5,19.6L-5,-1.2L-10.4,-1.2Z" transform="translate(535.80,284.40) rotate(-22.4)" fill="#ffff00" stroke="#141414" stroke-width="1"/>
<path d="M0,-19.3L10.4,-1.2L5,-1.2L5,19.6L-5,19.6L-5,-1.2L-10.4,-1.2Z" transform="translate(544.35,275.00) rotate(-24)" fill="#ffff00" stroke="#141414" stroke-width="1"/>
<path d="M0,-19.3L10.4,-1.2L5,-1.2L5,19.6L-5,19.6L-5,-1.2L-10.4,-1.2Z" transform="translate(552.90,275.00) rotate(-24)" fill="#ffff00" stroke="#141414" stroke-width="1"/>
<path d="M0,-19.3L10.4,-1.2L5,-1.2L5,19.6L-5,19.6L-5,-1.2L-10.4,-1.2Z" transform="translate(561.45,275.00) rotate(-24)" fill="#ffff00" stroke="#141414" stroke-width="1"/>
<path d="M0,-19.3L10.4,-1.2L5,-1.2L5,19.6L-5,19.6L-5,-1.2L-10.4,-1.2Z" transform="translate(570.00,275.00) rotate(-24)" fill="#ffff00" stroke="#141414" stroke-width="1"/>
<path d="M0,-19.3L10.4,-1.2L5,-1.2L5,19.6L-5,19.6L-5,-1.2L-10.4,-1.2Z" transform="translate(578.55,266.30) rotate(-21)" fill="#ffff00" stroke="#141414" stroke-width="1"/>
<path d="M0,-19.3L10.4,-1.2L5,-1.2L5,19.6L-5,19.6L-5,-1.2L-10.4,-1.2Z" transform="translate(587.10,284.60) rotate(-22)" fill="#ffff00" stroke="#141414" stroke-width="1"/>
<path d="M0,-19.3L10.4,-1.2L5,-1.2L5,19.6L-5,19.6L-5,-1.2L-10.4,-1.2Z" transform="translate(595.65,314.40) rotate(-22)" fill="#ff0000" stroke="#141414" stroke-width="1"/>
<path d="M0,-19.3L10.4,-1.2L5,-1.2L5,19.6L-5,19.6L-5,-1.2L-10.4,-1.2Z" transform="translate(604.20,333.50) rotate(-23)" fill="#ff0000" stroke="#141414" stroke-width="1"/>
<path d="M0,-19.3L10.4,-1.2L5,-1.2L5,19.6L-5,19.6L-5,-1.2L-10.4,-1.2Z" transform="translate(612.75,333.50) rotate(-23)" fill="#ff0000" stroke="#141414" stroke-width="1"/>
<path d="M0,-19.3L10.4,-1.2L5,-1.2L5,19.6L-5,19.6L-5,-1.2L-10.4,-1.2Z" transform="translate(621.30,333.50) rotate(-23)" fill="#ff0000" stroke="#141414" stroke-width="1"/>
<path d="M0,-19.3L10.4,-1.2L5,-1.2L5,19.6L-5,19.6L-5,-1.2L-10.4,-1.2Z" transform="translate(629.85,333.50) rotate(-23)" fill="#ff0000" stroke="#141414" stroke-width="1"/>
<path d="M0,-19.3L10.4,-1.2L5,-1.2L5,19.6L-5,19.6L-5,-1.2L-10.4,-1.2Z" transform="translate(638.40,333.50) rotate(-23)" fill="#ff0000" stroke="#141414" stroke-width="1"/>
<path d="M0,-19.3L10.4,-1.2L5,-1.2L5,19.6L-5,19.6L-5,-1.2L-10.4,-1.2Z" transform="translate(646.95,333.50) rotate(-23)" fill="#ff0000" stroke="#141414" stroke-width="1"/>
<path d="M0,-19.3L10.4,-1.2L5,-1.2L5,19.6L-5,19.6L-5,-1.2L-10.4,-1.2Z" transform="translate(655.50,322.20) rotate(-24)" fill="#ff0000" stroke="#141414" stroke-width="1"/>
<path d="M0,-19.3L10.4,-1.2L5,-1.2L5,19.6L-5,19.6L-5,-1.2L-10.4,-1.2Z" transform="translate(664.05,295.00) rotate(-45)" fill="#ffff00" stroke="#141414" stroke-width="1"/>
<path d="M0,-19.3L10.4,-1.2L5,-1.2L5,19.6L-5,19.6L-5,-1.2L-10.4,-1.2Z" transform="translate(672.60,284.80) rotate(-46)" fill="#ffff00" stroke="#141414" stroke-width="1"/>
<path d="M0,-19.3L10.4,-1.2L5,-1.2L5,19.6L-5,19.6L-5,-1.2L-10.4,-1.2Z" transform="translate(681.15,285.70) rotate(-43)" fill="#ffff00" stroke="#141414" stroke-width="1"/>
<path d="M0,-19.3L10.4,-1.2L5,-1.2L5,19.6L-5,19.6L-5,-1.2L-10.4,-1.2Z" transform="translate(689.70,286.00) rotate(-42)" fill="#ffff00" stroke="#141414" stroke-width="1"/>
<path d="M0,-19.3L10.4,-1.2L5,-1.2L5,19.6L-5,19.6L-5,-1.2L-10.4,-1.2Z" transform="translate(698.25,286.00) rotate(-42)" fill="#ffff00" stroke="#141414" stroke-width="1"/>
<path d="M0,-19.3L10.4,-1.2L5,-1.2L5,19.6L-5,19.6L-5,-1.2L-10.4,-1.2Z" transform="translate(706.80,277.70) rotate(-38)" fill="#ffff00" stroke="#141414" stroke-width="1"/>
<path d="M0,-19.3L10.4,-1.2L5,-1.2L5,19.6L-5,19.6L-5,-1.2L-10.4,-1.2Z" transform="translate(715.35,275.90) rotate(-46)" fill="#ffff00" stroke="#141414" stroke-width="1"/>
<path d="M0,-19.3L10.4,-1.2L5,-1.2L5,19.6L-5,19.6L-5,-1.2L-10.4,-1.2Z" transform="translate(723.90,295.50) rotate(-45)" fill="#ffff00" stroke="#141414" stroke-width="1"/>
<path d="M0,-19.3L10.4,-1.2L5,-1.2L5,19.6L-5,19.6L-5,-1.2L-10.4,-1.2Z" transform="translate(732.45,313.90) rotate(-46)" fill="#ff0000" stroke="#141414" stroke-width="1"/>
<path d="M0,-19.3L10.4,-1.2L5,-1.2L5,19.6L-5,19.6L-5,-1.2L-10.4,-1.2Z" transform="translate(741.00,323.80) rotate(-43)" fill="#ff0000" stroke="#141414" stroke-width="1"/>
<path d="M0,-19.3L10.4,-1.2L5,-1.2L5,19.6L-5,19.6L-5,-1.2L-10.4,-1.2Z" transform="translate(749.55,323.80) rotate(-43)" fill="#ff0000" stroke="#141414" stroke-width="1"/>
<path d="M0,-19.3L10.4,-1.2L5,-1.2L5,19.6L-5,19.6L-5,-1.2L-10.4,-1.2Z" transform="translate(758.10,323.50) rotate(-43)" fill="#ff0000" stroke="#141414" stroke-width="1"/>
<path d="M0,-19.3L10.4,-1.2L5,-1.2L5,19.6L-5,19.6L-5,-1.2L-10.4,-1.2Z" transform="translate(766.65,313.40) rotate(-46)" fill="#ff0000" stroke="#141414" stroke-width="1"/>
<path d="M0,-19.3L10.4,-1.2L5,-1.2L5,19.6L-5,19.6L-5,-1.2L-10.4,-1.2Z" transform="translate(775.20,313.70) rotate(-46)" fill="#ff0000" stroke="#141414" stroke-width="1"/>
<path d="M0,-19.3L10.4,-1.2L5,-1.2L5,19.6L-5,19.6L-5,-1.2L-10.4,-1.2Z" transform="translate(783.75,315.30) rotate(-62)" fill="#ff0000" stroke="#141414" stroke-width="1"/>
<path d="M0,-19.3L10.4,-1.2L5,-1.2L5,19.6L-5,19.6L-5,-1.2L-10.4,-1.2Z" transform="translate(792.30,315.00) rotate(-62)" fill="#ff0000" stroke="#141414" stroke-width="1"/>
<path d="M0,-19.3L10.4,-1.2L5,-1.2L5,19.6L-5,19.6L-5,-1.2L-10.4,-1.2Z" transform="translate(800.85,295.00) rotate(-66)" fill="#ffff00" stroke="#141414" stroke-width="1"/>
<path d="M0,-19.3L10.4,-1.2L5,-1.2L5,19.6L-5,19.6L-5,-1.2L-10.4,-1.2Z" transform="translate(809.40,295.00) rotate(-66)" fill="#ffff00" stroke="#141414" stroke-width="1"/>
<path d="M0,-19.3L10.4,-1.2L5,-1.2L5,19.6L-5,19.6L-5,-1.2L-10.4,-1.2Z" transform="translate(817.95,295.00) rotate(-90)" fill="#ffff00" stroke="#141414" stroke-width="1"/>
<path d="M0,-19.3L10.4,-1.2L5,-1.2L5,19.6L-5,19.6L-5,-1.2L-10.4,-1.2Z" transform="translate(826.50,312.00) rotate(-98)" fill="#ff0000" stroke="#141414" stroke-width="1"/>
<path d="M0,-19.3L10.4,-1.2L5,-1.2L5,19.6L-5,19.6L-5,-1.2L-10.4,-1.2Z" transform="translate(835.05,314.00) rotate(-60)" fill="#ff0000" stroke="#141414" stroke-width="1"/>
<path d="M0,-19.3L10.4,-1.2L5,-1.2L5,19.6L-5,19.6L-5,-1.2L-10.4,-1.2Z" transform="translate(843.60,303.00) rotate(-68)" fill="#ff0000" stroke="#141414" stroke-width="1"/>
<path d="M0,-19.3L10.4,-1.2L5,-1.2L5,19.6L-5,19.6L-5,-1.2L-10.4,-1.2Z" transform="translate(852.15,295.00) rotate(-66)" fill="#ffff00" stroke="#141414" stroke-width="1"/>
<path d="M0,-19.3L10.4,-1.2L5,-1.2L5,19.6L-5,19.6L-5,-1.2L-10.4,-1.2Z" transform="translate(860.70,295.20) rotate(-66)" fill="#ffff00" stroke="#141414" stroke-width="1"/>
<path d="M0,-19.3L10.4,-1.2L5,-1.2L5,19.6L-5,19.6L-5,-1.2L-10.4,-1.2Z" transform="translate(870.75,314.50) rotate(-63)" fill="#ff0000" stroke="#141414" stroke-width="1"/>
<path d="M0,-19.3L10.4,-1.2L5,-1.2L5,19.6L-5,19.6L-5,-1.2L-10.4,-1.2Z" transform="translate(879.30,314.50) rotate(-63)" fill="#ff0000" stroke="#141414" stroke-width="1"/>
<path d="M0,-19.3L10.4,-1.2L5,-1.2L5,19.6L-5,19.6L-5,-1.2L-10.4,-1.2Z" transform="translate(886.35,313.50) rotate(-63)" fill="#ff0000" stroke="#141414" stroke-width="1"/>
<path d="M0,-19.3L10.4,-1.2L5,-1.2L5,19.6L-5,19.6L-5,-1.2L-10.4,-1.2Z" transform="translate(894.90,323.00) rotate(-72)" fill="#ff0000" stroke="#141414" stroke-width="1"/>
<path d="M0,-19.3L10.4,-1.2L5,-1.2L5,19.6L-5,19.6L-5,-1.2L-10.4,-1.2Z" transform="translate(903.45,332.70) rotate(-90)" fill="#ff0000" stroke="#141414" stroke-width="1"/>
<path d="M0,-19.3L10.4,-1.2L5,-1.2L5,19.6L-5,19.6L-5,-1.2L-10.4,-1.2Z" transform="translate(912.00,332.70) rotate(-90)" fill="#ff0000" stroke="#141414" stroke-width="1"/>
<path d="M0,-19.3L10.4,-1.2L5,-1.2L5,19.6L-5,19.6L-5,-1.2L-10.4,-1.2Z" transform="translate(920.55,332.70) rotate(-90)" fill="#ff0000" stroke="#141414" stroke-width="1"/>
<path d="M0,-19.3L10.4,-1.2L5,-1.2L5,19.6L-5,19.6L-5,-1.2L-10.4,-1.2Z" transform="translate(929.10,313.40) rotate(10)" fill="#ff0000" stroke="#141414" stroke-width="1"/>
<path d="M0,-19.3L10.4,-1.2L5,-1.2L5,19.6L-5,19.6L-5,-1.2L-10.4,-1.2Z" transform="translate(937.65,316.00) rotate(-5)" fill="#ff0000" stroke="#141414" stroke-width="1"/>
<path d="M0,-19.3L10.4,-1.2L5,-1.2L5,19.6L-5,19.6L-5,-1.2L-10.4,-1.2Z" transform="translate(946.20,303.00) rotate(-134)" fill="#ff0000" stroke="#141414" stroke-width="1"/>
<path d="M0,-19.3L10.4,-1.2L5,-1.2L5,19.6L-5,19.6L-5,-1.2L-10.4,-1.2Z" transform="translate(954.75,314.00) rotate(-125)" fill="#ff0000" stroke="#141414" stroke-width="1"/>
<path d="M0,-19.3L10.4,-1.2L5,-1.2L5,19.6L-5,19.6L-5,-1.2L-10.4,-1.2Z" transform="translate(963.30,323.00) rotate(-112)" fill="#ff0000" stroke="#141414" stroke-width="1"/>
<path d="M0,-19.3L10.4,-1.2L5,-1.2L5,19.6L-5,19.6L-5,-1.2L-10.4,-1.2Z" transform="translate(971.85,312.00) rotate(-81)" fill="#ff0000" stroke="#141414" stroke-width="1"/>
<path d="M0,-19.3L10.4,-1.2L5,-1.2L5,19.6L-5,19.6L-5,-1.2L-10.4,-1.2Z" transform="translate(980.40,313.00) rotate(-90)" fill="#ff0000" stroke="#141414" stroke-width="1"/>
<path d="M0,-19.3L10.4,-1.2L5,-1.2L5,19.6L-5,19.6L-5,-1.2L-10.4,-1.2Z" transform="translate(988.95,313.00) rotate(-90)" fill="#ff0000" stroke="#141414" stroke-width="1"/>
<path d="M0,-19.3L10.4,-1.2L5,-1.2L5,19.6L-5,19.6L-5,-1.2L-10.4,-1.2Z" transform="translate(997.50,313.00) rotate(-90)" fill="#ff0000" stroke="#141414" stroke-width="1"/>
<path d="M0,-19.3L10.4,-1.2L5,-1.2L5,19.6L-5,19.6L-5,-1.2L-10.4,-1.2Z" transform="translate(1006.05,323.00) rotate(-68)" fill="#ff0000" stroke="#141414" stroke-width="1"/>
<path d="M0,-19.3L10.4,-1.2L5,-1.2L5,19.6L-5,19.6L-5,-1.2L-10.4,-1.2Z" transform="translate(1014.60,323.00) rotate(-68)" fill="#ff0000" stroke="#141414" stroke-width="1"/>
</g>
<text transform="translate(20.5,267) rotate(-90)" text-anchor="middle" font-size="23">Wave Height - Metres</text>
<text transform="translate(1059,265) rotate(90)" text-anchor="middle" font-size="23">Wind Speed - Knots</text>
</svg>
</body></html>
